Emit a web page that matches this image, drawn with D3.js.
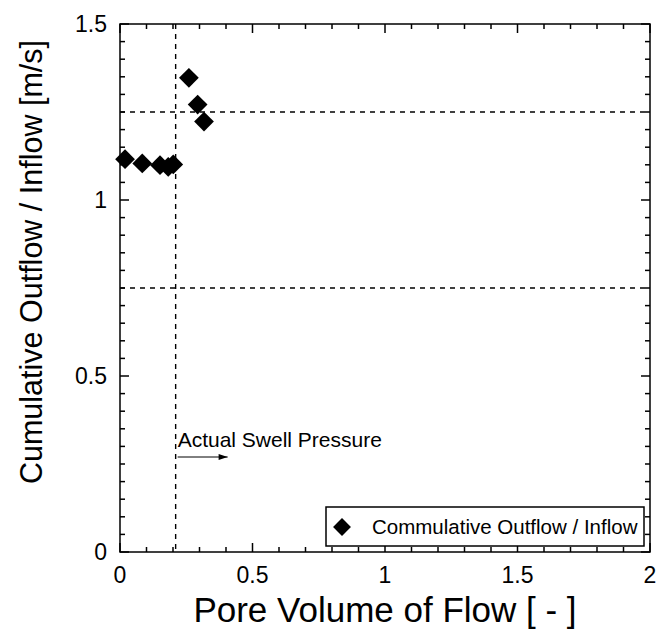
<!DOCTYPE html>
<html>
<head>
<meta charset="utf-8">
<script src="https://cdn.jsdelivr.net/npm/d3@7"></script>
<style>
  html, body { margin: 0; padding: 0; background: #fff; }
  svg { display: block; font-family: "Liberation Sans", Arial, sans-serif; }
</style>
</head>
<body>
<svg id="chart" width="657" height="632"></svg>
<script>
// Measured series: pore volume of flow vs cumulative outflow / inflow ratio
const poreVolume = [0.019, 0.084, 0.151, 0.182, 0.201, 0.260, 0.293, 0.317];
const outflowRatio = [1.116, 1.104, 1.099, 1.094, 1.101, 1.347, 1.271, 1.223];

// Reference lines
const swellPressureX = 0.21;
const horizontalRefs = [1.25, 0.75];

// Axis ticks
const xMajorTicks = [0, 0.5, 1, 1.5, 2];
const xTickLabels = ["0", "0.5", "1", "1.5", "2"];
const yMajorTicks = [0, 0.5, 1, 1.5];
const yTickLabels = ["0", "0.5", "1", "1.5"];

const xTitle = "Pore Volume of Flow [ - ]";
const yTitle = "Cumulative Outflow / Inflow [m/s]";
const legendLabel = "Commulative Outflow / Inflow";
const annotation = "Actual Swell Pressure";

const svg = d3.select("#chart");
const margin = { left: 120, right: 7, top: 24, bottom: 80 };
const W = 657, H = 632;
const x = d3.scaleLinear().domain([0, 2]).range([margin.left, W - margin.right]);
const y = d3.scaleLinear().domain([0, 1.5]).range([H - margin.bottom, margin.top]);

const x0 = x(0), x1 = x(2), y0 = y(0), y1 = y(1.5);

// Inward ticks on all four sides
const xMinor = d3.range(0, 2.0001, 0.1).map(v => +v.toFixed(2));
const yMinor = d3.range(0, 1.5001, 0.05).map(v => +v.toFixed(2));
const isMajor = (v, step) => Math.abs(v / step - Math.round(v / step)) < 1e-6;
const majorLen = 9, minorLen = 5;

const ticks = svg.append("g").attr("stroke", "#000").attr("stroke-width", 1.5);
xMinor.forEach(v => {
  const L = isMajor(v, 0.5) ? majorLen : minorLen;
  ticks.append("line").attr("x1", x(v)).attr("x2", x(v)).attr("y1", y0).attr("y2", y0 - L);
  ticks.append("line").attr("x1", x(v)).attr("x2", x(v)).attr("y1", y1).attr("y2", y1 + L);
});
yMinor.forEach(v => {
  const L = isMajor(v, 0.5) ? majorLen : minorLen;
  ticks.append("line").attr("x1", x0).attr("x2", x0 + L).attr("y1", y(v)).attr("y2", y(v));
  ticks.append("line").attr("x1", x1).attr("x2", x1 - L).attr("y1", y(v)).attr("y2", y(v));
});

// Dashed reference lines
const dash = svg.append("g").attr("stroke", "#000").attr("stroke-width", 1.4)
  .attr("stroke-dasharray", "5,5").attr("fill", "none");
dash.append("line").attr("x1", x(swellPressureX)).attr("x2", x(swellPressureX))
  .attr("y1", y1).attr("y2", y0);
horizontalRefs.forEach(v => {
  dash.append("line").attr("x1", x0).attr("x2", x1).attr("y1", y(v)).attr("y2", y(v));
});

// Frame
svg.append("rect").attr("x", x0).attr("y", y1).attr("width", x1 - x0).attr("height", y0 - y1)
  .attr("fill", "none").attr("stroke", "#000").attr("stroke-width", 1.5);

// Tick labels
svg.append("g").selectAll("text").data(xMajorTicks).join("text")
  .attr("x", d => x(d)).attr("y", y0 + 31)
  .attr("text-anchor", "middle").attr("font-size", 23)
  .text((d, i) => xTickLabels[i]);
svg.append("g").selectAll("text").data(yMajorTicks).join("text")
  .attr("x", x0 - 13).attr("y", d => y(d) + 8)
  .attr("text-anchor", "end").attr("font-size", 23)
  .text((d, i) => yTickLabels[i]);

// Axis titles
svg.append("text").attr("x", 385).attr("y", 622)
  .attr("text-anchor", "middle").attr("font-size", 35).text(xTitle);
svg.append("text")
  .attr("transform", "translate(42,262) rotate(-90)")
  .attr("text-anchor", "middle").attr("font-size", 30.5).text(yTitle);

// Diamond markers
const pts = poreVolume.map((v, i) => ({ x: v, y: outflowRatio[i] }));
svg.append("g").selectAll("path").data(pts).join("path")
  .attr("transform", d => `translate(${x(d.x)},${y(d.y)}) rotate(45)`)
  .attr("d", d3.symbol().type(d3.symbolSquare).size(195))
  .attr("fill", "#000");

// Swell pressure annotation with arrow
svg.append("text").attr("x", x(swellPressureX) + 2).attr("y", 447)
  .attr("font-size", 21).text(annotation);
const ax = x(swellPressureX) + 2, ay = 457;
svg.append("line").attr("x1", ax).attr("x2", ax + 50).attr("y1", ay).attr("y2", ay)
  .attr("stroke", "#000").attr("stroke-width", 1);
svg.append("path")
  .attr("d", `M${ax + 50},${ay} l-9,-3 l0,6 z`).attr("fill", "#000");

// Legend
const lg = svg.append("g");
lg.append("rect").attr("x", 326).attr("y", 507).attr("width", 318).attr("height", 39)
  .attr("fill", "#fff").attr("stroke", "#000").attr("stroke-width", 1.5);
lg.append("path").attr("transform", "translate(342,527) rotate(45)")
  .attr("d", d3.symbol().type(d3.symbolSquare).size(160)).attr("fill", "#000");
lg.append("text").attr("x", 372).attr("y", 534).attr("font-size", 20.5).text(legendLabel);
</script>
</body>
</html>
